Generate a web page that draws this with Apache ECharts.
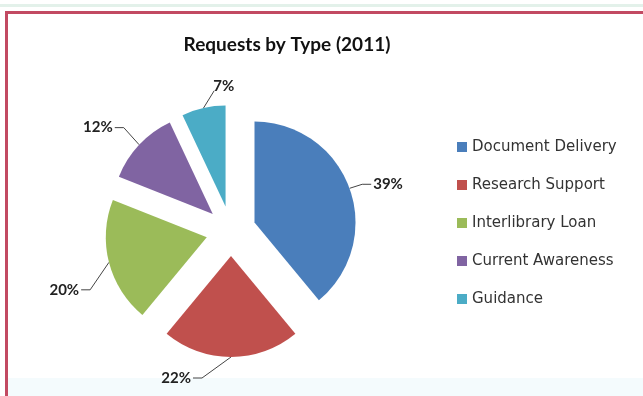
<!DOCTYPE html>
<html>
<head>
<meta charset="utf-8">
<script src="https://cdn.jsdelivr.net/npm/echarts@6/dist/echarts.min.js"></script>
<style>
html,body{margin:0;padding:0;background:#fff;}
#frame{position:absolute;left:0;top:0;width:643px;height:396px;background:#fff;}
#topline{position:absolute;left:0;top:4px;width:643px;height:3px;background:#e3f1ea;}
#bottom{position:absolute;left:8px;top:378px;width:635px;height:18px;background:#f4fbfd;}
#chart{position:absolute;left:5px;top:11px;width:650px;height:400px;border-left:3px solid #c24a62;border-top:3px solid #c24a62;box-sizing:border-box;background:transparent;}
</style>
</head>
<body>
<div id="frame"><div id="topline"></div><div id="bottom"></div><div id="chart"></div></div>
<script>
const categories = ['Document Delivery', 'Research Support', 'Interlibrary Loan', 'Current Awareness', 'Guidance'];
const values = [39, 22, 20, 12, 7];
const colors = ['#4a7ebb', '#c0504d', '#9bbb59', '#8064a2', '#4bacc6'];
const titleText = 'Requests by Type (2011)';
// nudges of the percentage labels from their default outside place (Excel-like layout)
const labelNudge = [[-1, -2], [-21, 15], [-5, 26], [-3, -13], [51, -16]];

const chart = echarts.init(document.getElementById('chart'), null, {renderer: 'canvas'});
chart.setOption({
  animation: false,
  title: {
    text: titleText,
    left: 274, top: 16, textAlign: 'center',
    textStyle: {fontFamily: 'Lato', fontWeight: 'bold', fontSize: 19, color: '#111'}
  },
  legend: {
    orient: 'vertical',
    left: 449, top: 125, padding: 0,
    itemWidth: 10, itemHeight: 10,
    itemGap: 22,
    icon: 'rect',
    textStyle: {fontFamily: 'DejaVu Sans', fontSize: 15, lineHeight: 16, color: '#333'},
    data: categories
  },
  series: [{
    type: 'pie',
    center: [223, 217],
    radius: [0, 101],
    startAngle: 90,
    clockwise: true,
    selectedMode: 'multiple',
    selectedOffset: 25,
    color: colors,
    emphasis: {disabled: true},
    label: {
      show: true, position: 'outside', formatter: '{c}%',
      fontFamily: 'Lato', fontWeight: 'bold', fontSize: 15, color: '#222'
    },
    labelLine: {show: true, length: 6, length2: 14, smooth: false, lineStyle: {color: '#444', width: 1}},
    labelLayout: function (p) {
      const n = labelNudge[p.dataIndex];
      const r = p.labelRect;
      const x0 = r.x + n[0], y0 = r.y + n[1], w = r.width, h = r.height;
      const cy = y0 + h / 2;
      const out = {dx: n[0], dy: n[1]};
      const pts = p.labelLinePoints;
      if (pts && pts.length) {
        const p0 = pts[0];
        let end, mid;
        if (p0[1] > y0 + h && Math.abs(p0[0] - (x0 + w / 2)) < w) {
          end = [x0 + 1, y0 + h - 3];
          mid = end;
        } else if (x0 + w / 2 < p0[0]) {
          end = [x0 + w + 2, cy];
          mid = [end[0] + 9, cy];
        } else {
          end = [x0 - 2, cy];
          mid = [end[0] - 9, cy];
        }
        out.labelLinePoints = [p0, mid, end];
      }
      return out;
    },
    data: categories.map((n, i) => ({name: n, value: values[i], selected: true}))
  }]
});
</script>
</body>
</html>
